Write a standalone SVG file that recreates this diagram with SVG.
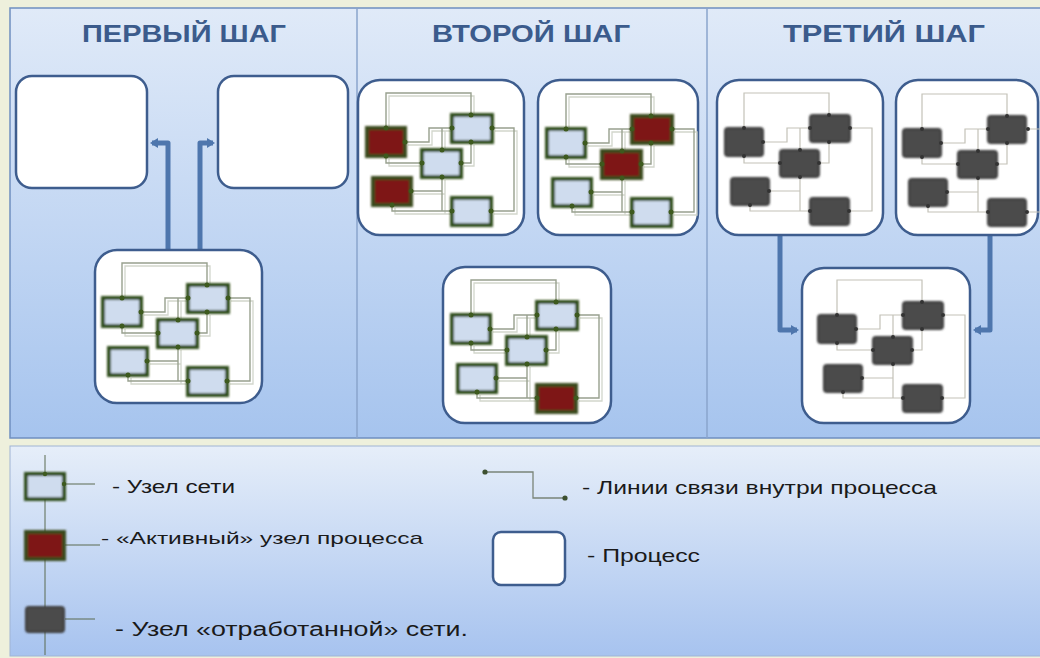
<svg xmlns="http://www.w3.org/2000/svg" xmlns:xlink="http://www.w3.org/1999/xlink" width="1040" height="658" viewBox="0 0 1040 658">
<style>
.hd{font-family:"Liberation Sans",Arial,sans-serif;font-weight:bold;font-size:23px;fill:#3b5b8c}
.lg{font-family:"Liberation Sans",Arial,sans-serif;fill:#1a1a1a}
.proc{fill:#ffffff;stroke:#3e5d8e;stroke-width:2.5}
.arr{fill:none;stroke:#4e76ad;stroke-width:5;stroke-linejoin:round}
.n{fill:#cfdcee;stroke:#33501a;stroke-width:4}
.a{fill:#7e1616;stroke:#3a4a1e;stroke-width:4}
.u{fill:#4b4b4b;stroke:#3c3c3c;stroke-width:2}
.dot{fill:#3d5a1e}
.udot{fill:#333333}
.div{stroke:#8aa4cc;stroke-width:1.5}
</style>
<defs>
<linearGradient id="gTop" x1="0" y1="0" x2="0" y2="1">
<stop offset="0" stop-color="#e0eaf8"/>
<stop offset="1" stop-color="#a6c4ee"/>
</linearGradient>
<linearGradient id="gLeg" x1="0" y1="0" x2="0" y2="1">
<stop offset="0" stop-color="#e6eef9"/>
<stop offset="1" stop-color="#a7c3ef"/>
</linearGradient>
<marker id="ah" viewBox="0 0 10 10" refX="6" refY="5" markerWidth="2" markerHeight="2" orient="auto" markerUnits="strokeWidth">
<path d="M0,0 L8,5 L0,10 z" fill="#4e76ad"/>
</marker>
<g id="netLines" fill="none">
<path d="M27,48 V13 H112 V35 M46,62 H70 V48 H93 M83,70 V48 M133,48 H155 V131 H132 M102,83 H112 V62 M27,76 V83 H63 M83,97 V131 H93 M33,125 V131 H83 M52,111 H83"/>
</g>
<g id="dotsN" class="dot">
<circle cx="27" cy="48" r="2.5"/><circle cx="27" cy="76" r="2.5"/><circle cx="46" cy="62" r="2.5"/>
<circle cx="112" cy="35" r="2.5"/><circle cx="93" cy="48" r="2.5"/><circle cx="133" cy="48" r="2.5"/><circle cx="112" cy="62" r="2.5"/>
<circle cx="83" cy="70" r="2.5"/><circle cx="83" cy="97" r="2.5"/><circle cx="63" cy="83" r="2.5"/><circle cx="102" cy="83" r="2.5"/>
<circle cx="52" cy="111" r="2.5"/><circle cx="33" cy="125" r="2.5"/>
<circle cx="93" cy="131" r="2.5"/><circle cx="132" cy="131" r="2.5"/>
</g>
<g id="dotsU" class="udot">
<circle cx="27" cy="48" r="2"/><circle cx="27" cy="76" r="2"/><circle cx="46" cy="62" r="2"/>
<circle cx="112" cy="35" r="2"/><circle cx="93" cy="48" r="2"/><circle cx="133" cy="48" r="2"/><circle cx="112" cy="62" r="2"/>
<circle cx="83" cy="70" r="2"/><circle cx="83" cy="97" r="2"/><circle cx="63" cy="83" r="2"/><circle cx="102" cy="83" r="2"/>
<circle cx="52" cy="111" r="2"/><circle cx="33" cy="125" r="2"/>
<circle cx="93" cy="131" r="2"/><circle cx="132" cy="131" r="2"/>
</g>
<filter id="sh" x="-20%" y="-20%" width="140%" height="140%">
<feGaussianBlur stdDeviation="0.8"/>
</filter>
</defs>

<!-- background -->
<rect x="0" y="0" width="1040" height="658" fill="#eef0dc"/>
<rect x="10" y="8" width="1032" height="430" fill="url(#gTop)" stroke="#6f8fc0" stroke-width="1.5"/>
<rect x="10" y="446" width="1032" height="210" fill="url(#gLeg)" stroke="#9fb4d4" stroke-width="1"/>
<line class="div" x1="357" y1="8" x2="357" y2="438"/>
<line class="div" x1="707" y1="8" x2="707" y2="438"/>

<!-- headings -->
<text class="hd" x="184" y="42" text-anchor="middle" textLength="204" lengthAdjust="spacingAndGlyphs">ПЕРВЫЙ ШАГ</text>
<text class="hd" x="531" y="42" text-anchor="middle" textLength="198" lengthAdjust="spacingAndGlyphs">ВТОРОЙ ШАГ</text>
<text class="hd" x="884" y="42" text-anchor="middle" textLength="202" lengthAdjust="spacingAndGlyphs">ТРЕТИЙ ШАГ</text>

<!-- connectors -->
<g id="connectors">
<path class="arr" d="M168,250 V143 H152" marker-end="url(#ah)"/>
<path class="arr" d="M200,250 V143 H213" marker-end="url(#ah)"/>
<path class="arr" d="M780,235 V330 H797" marker-end="url(#ah)"/>
<path class="arr" d="M990,235 V330 H975" marker-end="url(#ah)"/>
</g>

<!-- step 1 -->
<g id="p1-left"><rect class="proc" x="16" y="76" width="131" height="112" rx="16"/></g>
<g id="p1-right"><rect class="proc" x="218" y="76" width="130" height="112" rx="16"/></g>
<g id="p1-net">
<rect class="proc" x="95" y="250" width="167" height="153" rx="22"/>
<g transform="translate(95,250)">
<use href="#netLines" transform="translate(3,3)" stroke="#d2d6cc" stroke-width="1.3"/>
<use href="#netLines" stroke="#98a08e" stroke-width="1.4"/>
<g filter="url(#sh)"><rect class="n" x="8" y="48" width="38" height="28"/><rect class="n" x="93" y="35" width="40" height="27"/><rect class="n" x="63" y="70" width="39" height="27"/><rect class="n" x="14" y="98" width="38" height="27"/><rect class="n" x="93" y="118" width="39" height="27"/></g>
<use href="#dotsN"/>
</g>
</g>

<!-- step 2 -->
<g id="p2-a">
<rect class="proc" x="358" y="80" width="166" height="155" rx="22"/>
<g transform="translate(359,80)">
<use href="#netLines" transform="translate(3,3)" stroke="#d2d6cc" stroke-width="1.3"/>
<use href="#netLines" stroke="#98a08e" stroke-width="1.4"/>
<g filter="url(#sh)"><rect class="a" x="8" y="48" width="38" height="28"/><rect class="n" x="93" y="35" width="40" height="27"/><rect class="n" x="63" y="70" width="39" height="27"/><rect class="a" x="14" y="98" width="38" height="27"/><rect class="n" x="93" y="118" width="39" height="27"/></g>
<use href="#dotsN"/>
</g>
</g>
<g id="p2-b">
<rect class="proc" x="538" y="80" width="160" height="155" rx="22"/>
<g transform="translate(539,81)">
<use href="#netLines" transform="translate(3,3)" stroke="#d2d6cc" stroke-width="1.3"/>
<use href="#netLines" stroke="#98a08e" stroke-width="1.4"/>
<g filter="url(#sh)"><rect class="n" x="8" y="48" width="38" height="28"/><rect class="a" x="93" y="35" width="40" height="27"/><rect class="a" x="63" y="70" width="39" height="27"/><rect class="n" x="14" y="98" width="38" height="27"/><rect class="n" x="93" y="118" width="39" height="27"/></g>
<use href="#dotsN"/>
</g>
</g>
<g id="p2-c">
<rect class="proc" x="443" y="267" width="168" height="156" rx="22"/>
<g transform="translate(444,267)">
<use href="#netLines" transform="translate(3,3)" stroke="#d2d6cc" stroke-width="1.3"/>
<use href="#netLines" stroke="#98a08e" stroke-width="1.4"/>
<g filter="url(#sh)"><rect class="n" x="8" y="48" width="38" height="28"/><rect class="n" x="93" y="35" width="40" height="27"/><rect class="n" x="63" y="70" width="39" height="27"/><rect class="n" x="14" y="98" width="38" height="27"/><rect class="a" x="93" y="118" width="39" height="27"/></g>
<use href="#dotsN"/>
</g>
</g>

<!-- step 3 -->
<g id="p3-d">
<rect class="proc" x="717" y="80" width="166" height="155" rx="22"/>
<g transform="translate(717,80)">
<use href="#netLines" stroke="#c4c2b8" stroke-width="1.2"/>
<g filter="url(#sh)"><rect class="u" x="8" y="48" width="38" height="28" rx="3"/><rect class="u" x="93" y="35" width="40" height="27" rx="3"/><rect class="u" x="63" y="70" width="39" height="27" rx="3"/><rect class="u" x="14" y="98" width="38" height="27" rx="3"/><rect class="u" x="93" y="118" width="39" height="27" rx="3"/></g>
<use href="#dotsU"/>
</g>
</g>
<g id="p3-e">
<rect class="proc" x="896" y="80" width="142" height="155" rx="22"/>
<g transform="translate(895,81)">
<use href="#netLines" stroke="#c4c2b8" stroke-width="1.2"/>
<g filter="url(#sh)"><rect class="u" x="8" y="48" width="38" height="28" rx="3"/><rect class="u" x="93" y="35" width="38" height="27" rx="3"/><rect class="u" x="63" y="70" width="39" height="27" rx="3"/><rect class="u" x="14" y="98" width="38" height="27" rx="3"/><rect class="u" x="93" y="118" width="38" height="27" rx="3"/></g>
<use href="#dotsU"/>
</g>
</g>
<g id="p3-f">
<rect class="proc" x="802" y="268" width="168" height="155" rx="22"/>
<g transform="translate(810,267)">
<use href="#netLines" stroke="#c4c2b8" stroke-width="1.2"/>
<g filter="url(#sh)"><rect class="u" x="8" y="48" width="38" height="28" rx="3"/><rect class="u" x="93" y="35" width="40" height="27" rx="3"/><rect class="u" x="63" y="70" width="39" height="27" rx="3"/><rect class="u" x="14" y="98" width="38" height="27" rx="3"/><rect class="u" x="93" y="118" width="39" height="27" rx="3"/></g>
<use href="#dotsU"/>
</g>
</g>

<!-- legend -->
<g id="legend">
<line x1="45" y1="455" x2="45" y2="655" stroke="#5a6a50" stroke-width="1"/>
<g id="lg-node">
<line x1="65" y1="484" x2="95" y2="484" stroke="#5a6a50" stroke-width="1"/>
<rect class="n" x="26" y="474" width="38" height="25" filter="url(#sh)"/>
<circle class="dot" cx="45" cy="474" r="2.2"/><circle class="dot" cx="64" cy="484" r="2.2"/>
<text class="lg" x="112" y="493" font-size="18" textLength="123" lengthAdjust="spacingAndGlyphs">- Узел сети</text>
</g>
<g id="lg-active">
<line x1="65" y1="545" x2="100" y2="545" stroke="#5a6a50" stroke-width="1"/>
<rect class="a" x="26" y="532" width="38" height="27" filter="url(#sh)"/>
<text class="lg" x="101" y="544" font-size="17" textLength="322" lengthAdjust="spacingAndGlyphs">- «Активный» узел процесса</text>
</g>
<g id="lg-used">
<line x1="65" y1="619" x2="95" y2="619" stroke="#5a6a50" stroke-width="1"/>
<rect class="u" x="26" y="607" width="38" height="25" rx="3" filter="url(#sh)"/>
<text class="lg" x="115" y="636" font-size="20" textLength="353" lengthAdjust="spacingAndGlyphs">- Узел «отработанной» сети.</text>
</g>
<g id="lg-line">
<path d="M485,472 H533 V498 H565" fill="none" stroke="#7a8478" stroke-width="1.3"/>
<circle cx="485" cy="472" r="2.6" fill="#3d5030"/><circle cx="565" cy="498" r="2.6" fill="#3d5030"/>
<text class="lg" x="582" y="494" font-size="19" textLength="355" lengthAdjust="spacingAndGlyphs">- Линии связи внутри процесса</text>
</g>
<g id="lg-proc">
<rect class="proc" x="493" y="532" width="72" height="53" rx="8"/>
<text class="lg" x="587" y="562" font-size="19" textLength="113" lengthAdjust="spacingAndGlyphs">- Процесс</text>
</g>
</g>
</svg>
